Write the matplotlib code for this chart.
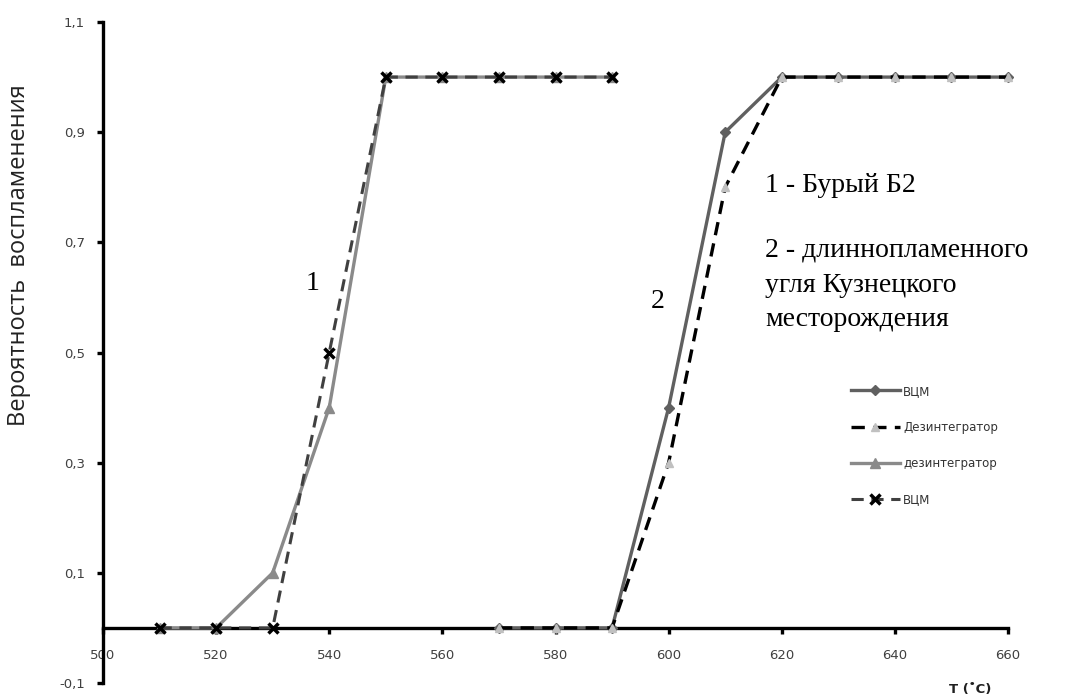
import matplotlib
matplotlib.use("Agg")
import matplotlib.pyplot as plt
from matplotlib.ticker import FixedLocator, FuncFormatter

# Coal 1 (Бурый Б2)
t1_vcm = [510, 520, 530, 540, 550, 560, 570, 580, 590]
p1_vcm = [0, 0, 0, 0.5, 1, 1, 1, 1, 1]
t1_dez = [510, 520, 530, 540, 550, 560, 570, 580, 590]
p1_dez = [0, 0, 0.1, 0.4, 1, 1, 1, 1, 1]

# Coal 2 (длиннопламенный Кузнецкий)
t2_vcm = [570, 580, 590, 600, 610, 620, 630, 640, 650, 660]
p2_vcm = [0, 0, 0, 0.4, 0.9, 1, 1, 1, 1, 1]
t2_dez = [570, 580, 590, 600, 610, 620, 630, 640, 650, 660]
p2_dez = [0, 0, 0, 0.3, 0.8, 1, 1, 1, 1, 1]

x_ticks = [500, 520, 540, 560, 580, 600, 620, 640, 660]
y_ticks = [-0.1, 0.1, 0.3, 0.5, 0.7, 0.9, 1.1]

fig = plt.figure(figsize=(10.74, 6.98), dpi=100)
ax = fig.add_axes([103/1074, 15/698, 905/1074, 661/698])

ax.plot(t2_vcm, p2_vcm, color='#606060', lw=2.4, marker='D', ms=5,
        mfc='#606060', mec='#606060', label='ВЦМ', clip_on=False, zorder=3)
ax.plot(t2_dez, p2_dez, color='black', lw=2.4, ls=(0, (4, 2.5)), marker='^', ms=6,
        mfc='#c0c0c0', mec='#c0c0c0', label='Дезинтегратор', clip_on=False, zorder=4)
ax.plot(t1_dez, p1_dez, color='#8a8a8a', lw=2.4, marker='^', ms=7,
        mfc='#8a8a8a', mec='#8a8a8a', label='дезинтегратор', clip_on=False, zorder=3)
ax.plot(t1_vcm, p1_vcm, color='#404040', lw=2.2, ls=(0, (4, 2.5)), marker='x', ms=7,
        mew=2.5, mec='black', label='ВЦМ', clip_on=False, zorder=4)

ax.set_xlim(500, 660)
ax.set_ylim(-0.1, 1.1)
ax.spines['top'].set_visible(False)
ax.spines['right'].set_visible(False)
ax.spines['bottom'].set_position(('data', 0))
ax.spines['left'].set_linewidth(2.4)
ax.spines['bottom'].set_linewidth(2.4)
ax.xaxis.set_major_locator(FixedLocator(x_ticks))
ax.yaxis.set_major_locator(FixedLocator(y_ticks))
ax.yaxis.set_major_formatter(FuncFormatter(lambda v, p: f"{v:.1f}".replace('.', ',')))
ax.tick_params(axis='both', direction='out', length=4, width=2.4, labelsize=9.5,
               labelcolor='#404040')
ax.tick_params(axis='x', pad=11)
ax.tick_params(axis='y', pad=9)

ax.set_ylabel('Вероятность  воспламенения', fontsize=17, color='#222222',
              family='Open Sans')
ax.yaxis.set_label_coords((31 - 103) / 905, (683 - 255) / 661)

fig.text(970/1074, 1 - 690/698, 'T (˚C)', fontsize=9.5, fontweight='bold',
         color='#202020', ha='center', va='center')

serif = 'Liberation Serif'
ax.text(537.1, (628 - 284) / 550, '1', fontsize=20, family=serif, ha='center', va='center')
ax.text(598.0, (628 - 302) / 550, '2', fontsize=20, family=serif, ha='center', va='center')
fig.text(765/1074, 1 - 185/698, '1 - Бурый Б2', fontsize=20, family=serif, va='center')
fig.text(765/1074, 1 - 250/698, '2 - длиннопламенного', fontsize=20,
         family=serif, va='center')
fig.text(765/1074, 1 - 285/698, 'угля Кузнецкого', fontsize=20, family=serif, va='center')
fig.text(765/1074, 1 - 320/698, 'месторождения', fontsize=20, family=serif, va='center')

leg = ax.legend(loc='upper left', bbox_to_anchor=(840/1074, 1 - 374/698),
                bbox_transform=fig.transFigure, frameon=False, fontsize=8.5,
                handlelength=4.2, labelspacing=1.95, handletextpad=0.25)
for t in leg.get_texts():
    t.set_color('#333333')

fig.savefig('out.png', dpi=100)
